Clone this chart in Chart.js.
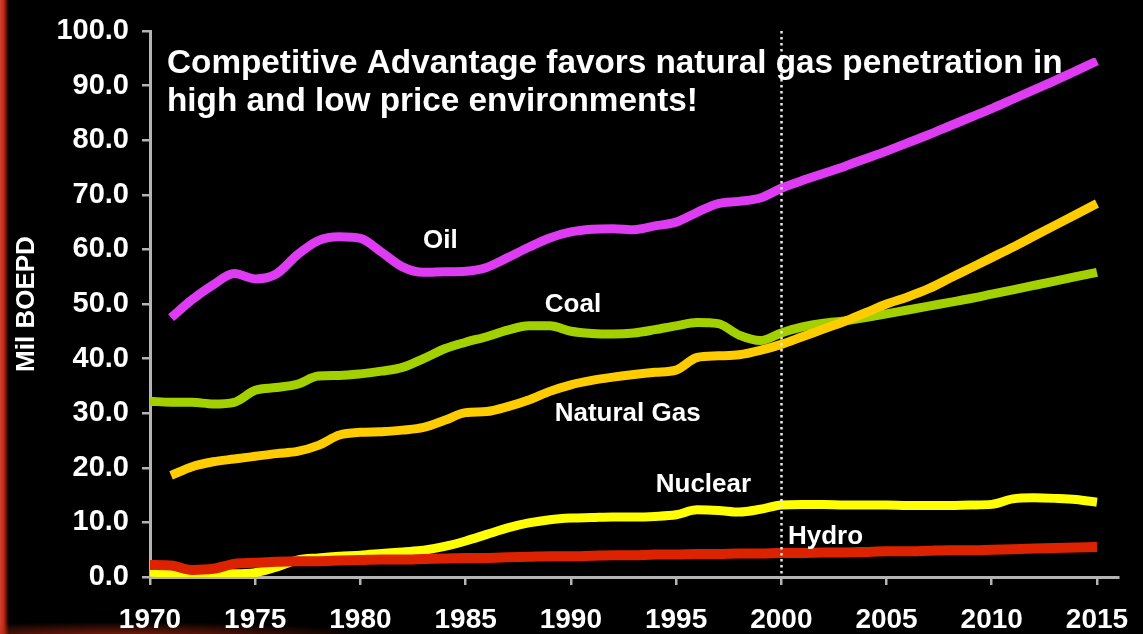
<!DOCTYPE html>
<html>
<head>
<meta charset="utf-8">
<script src="https://cdn.jsdelivr.net/npm/chart.js@4.4.1/dist/chart.umd.min.js"></script>
<style>
html,body{margin:0;padding:0;}
body{width:1143px;height:634px;overflow:hidden;position:relative;background:#000;}
#bg{position:absolute;left:0;top:0;width:1143px;height:634px;
background:
 radial-gradient(ellipse 260px 14px at 120px 636px, rgba(170,40,15,0.75), rgba(0,0,0,0) 100%),
 linear-gradient(to right, #d8402a 0px, #b8281a 4px, #4a0c06 7px, #000 9px);}
#c{position:absolute;left:0;top:0;}
</style>
</head>
<body>
<div id="bg"></div>
<canvas id="c" width="1143" height="634"></canvas>
<script>
const years = [1970,1971,1972,1973,1974,1975,1976,1977,1978,1979,
               1980,1981,1982,1983,1984,1985,1986,1987,1988,1989,
               1990,1991,1992,1993,1994,1995,1996,1997,1998,1999,
               2000,2001,2002,2003,2004,2005,2006,2007,2008,2009,
               2010,2011,2012,2013,2014,2015];

const oil = [null,47.5,50.8,53.5,55.6,54.6,55.5,59.0,61.6,62.3,
             62.0,59.5,56.8,55.8,55.9,56.0,56.7,58.5,60.4,62.1,
             63.2,63.7,63.8,63.6,64.3,65.0,66.8,68.4,68.8,69.4,
             71.2,72.6,73.9,75.2,76.6,78.0,79.5,81.0,82.6,84.2,
             85.8,87.5,89.2,90.9,92.7,94.5];

const coal = [32.2,32.0,32.0,31.7,32.0,34.2,34.7,35.3,36.8,36.9,
              37.2,37.7,38.4,40.0,41.8,43.0,44.0,45.2,46.0,46.0,
              45.0,44.6,44.5,44.7,45.3,46.0,46.6,46.4,44.3,43.3,
              44.7,45.8,46.5,46.9,47.5,48.2,48.9,49.6,50.3,51.0,
              51.8,52.6,53.4,54.2,55.0,55.8];

const naturalGas = [null,18.6,20.2,21.1,21.6,22.1,22.6,23.0,24.1,26.0,
                    26.5,26.6,26.9,27.4,28.7,30.1,30.3,31.2,32.4,34.0,
                    35.2,36.0,36.6,37.1,37.5,37.9,40.2,40.5,40.7,41.5,
                    42.6,44.0,45.4,46.8,48.4,50.0,51.3,52.8,54.7,56.6,
                    58.5,60.4,62.4,64.4,66.4,68.4];

const nuclear = [0.9,0.7,0.6,0.6,0.6,0.8,1.8,3.1,3.5,3.8,
                 4.0,4.3,4.6,4.9,5.6,6.6,7.8,9.0,9.9,10.5,
                 10.8,10.9,11.0,11.0,11.1,11.4,12.3,12.2,11.9,12.4,
                 13.2,13.3,13.3,13.2,13.2,13.2,13.1,13.1,13.1,13.2,
                 13.3,14.3,14.5,14.4,14.2,13.7];

const hydro = [2.2,2.1,1.3,1.5,2.4,2.6,2.8,2.9,2.9,3.0,
               3.1,3.2,3.2,3.3,3.4,3.5,3.5,3.6,3.7,3.8,
               3.8,3.9,4.0,4.0,4.1,4.1,4.2,4.2,4.3,4.3,
               4.4,4.4,4.5,4.5,4.6,4.7,4.7,4.8,4.9,4.9,
               5.0,5.1,5.2,5.3,5.4,5.5];

const yTicks = [0,10,20,30,40,50,60,70,80,90,100];
const xTicks = [1970,1975,1980,1985,1990,1995,2000,2005,2010,2015];

const titleLines = ["Competitive Advantage favors natural gas penetration in",
                    "high and low price environments!"];
const seriesLabels = [
  {text:"Oil", year:1983.8, value:61.5},
  {text:"Coal", year:1990.1, value:49.8},
  {text:"Natural Gas", year:1992.7, value:29.9},
  {text:"Nuclear", year:1996.3, value:16.9},
  {text:"Hydro", year:2002.1, value:7.3}
];
const markerYear = 2000;

const FONT = "'Liberation Sans', Arial, Helvetica, sans-serif";
const AXIS_GREY = '#b4b4b4';

const overlay = {
  id: 'overlay',
  afterDatasetsDraw(chart) {
    const {ctx, scales:{x, y}} = chart;
    const px = Math.round(x.getPixelForValue(markerYear)) + 0.5;
    ctx.save();
    ctx.strokeStyle = '#e8e8e8';
    ctx.lineWidth = 2.5;
    ctx.setLineDash([2.5, 3.5]);
    ctx.beginPath();
    ctx.moveTo(px, y.getPixelForValue(100));
    ctx.lineTo(px, y.getPixelForValue(0));
    ctx.stroke();
    ctx.restore();
  },
  afterDraw(chart) {
    const {ctx, chartArea, scales:{x, y}} = chart;
    ctx.save();
    ctx.fillStyle = '#ffffff';
    ctx.textAlign = 'left';
    ctx.textBaseline = 'alphabetic';
    ctx.font = "bold 33.3px " + FONT;
    ctx.fillText(titleLines[0], chartArea.left + 17, 73);
    ctx.fillText(titleLines[1], chartArea.left + 17, 111);
    ctx.font = "bold 26px " + FONT;
    ctx.textAlign = 'center';
    ctx.textBaseline = 'middle';
    seriesLabels.forEach(l => {
      ctx.fillText(l.text, x.getPixelForValue(l.year), y.getPixelForValue(l.value));
    });
    ctx.restore();
  }
};

function ds(label, data, color, width) {
  return {
    label, data,
    borderColor: color,
    backgroundColor: color,
    borderWidth: width,
    pointRadius: 0,
    pointHoverRadius: 0,
    fill: false,
    tension: 0.4,
    cubicInterpolationMode: 'monotone',
    borderCapStyle: 'butt',
    borderJoinStyle: 'round',
    spanGaps: false
  };
}

new Chart(document.getElementById('c'), {
  type: 'line',
  data: {
    labels: years,
    datasets: [
      ds('Oil', oil, '#dd3cf2', 9),
      ds('Natural Gas', naturalGas, '#ffcc00', 9),
      ds('Coal', coal, '#a3d100', 9),
      ds('Hydro', hydro, '#dd2200', 10),
      ds('Nuclear', nuclear, '#ffff00', 9)
    ]
  },
  options: {
    responsive: false,
    animation: false,
    devicePixelRatio: 1,
    layout: { padding: { left: 0, right: 25, top: 31, bottom: 0 } },
    plugins: { legend: { display: false }, tooltip: { enabled: false }, title: { display: false } },
    scales: {
      x: {
        type: 'linear',
        min: 1970, max: 2016,
        afterBuildTicks(scale) { scale.ticks = xTicks.map(v => ({value: v})); },
        afterFit(scale) { scale.height = 57; scale.paddingLeft = 0; scale.paddingRight = 0; },
        ticks: {
          color: '#ffffff',
          font: { family: FONT, size: 28, weight: 'bold' },
          padding: 18,
          maxRotation: 0,
          autoSkip: false,
          callback: v => String(v)
        },
        grid: { display: true, drawOnChartArea: false, drawTicks: true, tickLength: 8, color: AXIS_GREY, lineWidth: 2.5 },
        border: { display: true, color: AXIS_GREY, width: 3 }
      },
      y: {
        min: 0, max: 100,
        afterBuildTicks(scale) { scale.ticks = yTicks.map(v => ({value: v})); },
        afterFit(scale) { scale.width = 150; },
        ticks: {
          color: '#ffffff',
          font: { family: FONT, size: 29, weight: 'bold' },
          padding: 13,
          autoSkip: false,
          callback: v => v.toFixed(1)
        },
        title: {
          display: true,
          text: 'Mil BOEPD',
          color: '#ffffff',
          font: { family: FONT, size: 26, weight: 'bold' },
          padding: { top: 11, bottom: 0 }
        },
        grid: { display: true, drawOnChartArea: false, drawTicks: true, tickLength: 8, color: AXIS_GREY, lineWidth: 2.5 },
        border: { display: true, color: AXIS_GREY, width: 3 }
      }
    }
  },
  plugins: [overlay]
});
</script>
</body>
</html>
